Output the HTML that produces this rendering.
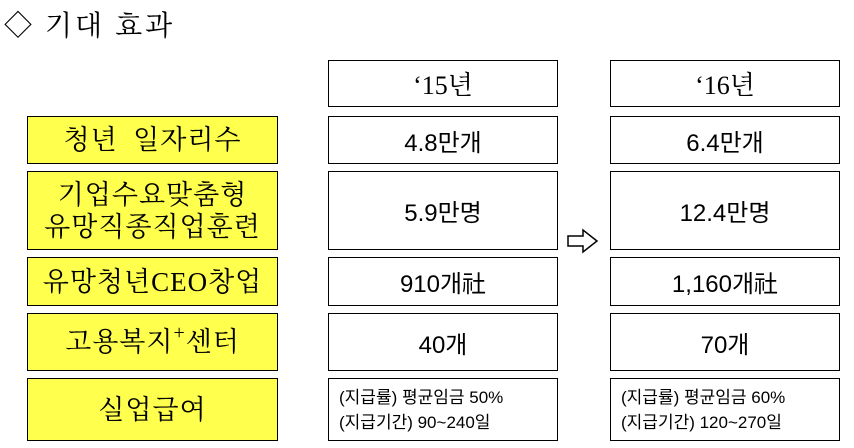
<!DOCTYPE html>
<html><head><meta charset="utf-8"><style>
body{margin:0;width:854px;height:448px;background:#fff;position:relative;overflow:hidden;font-family:"Liberation Sans","Noto Sans CJK KR",sans-serif}
.b{position:absolute;border:1.5px solid #000;box-sizing:border-box;display:flex;align-items:center;justify-content:center;text-align:center;color:#000}
.y{background:#ffff4d;font-family:"Liberation Serif","Noto Serif CJK SC",serif;font-size:27px;line-height:32px;left:27px;width:251px;letter-spacing:1px}
.d{font-size:24px;background:#fff}
.c1{left:328px;width:230px}.c2{left:610px;width:230px}
.s{font-size:17px;line-height:25px;justify-content:flex-start;text-align:left;padding-left:10px}
</style></head><body>
<div style="position:absolute;left:4px;top:4px;font-family:'Liberation Serif','Noto Serif CJK SC',serif;font-size:28px;letter-spacing:3px">◇ 기대 효과</div>
<div class="b d c1" style="top:60px;height:47px;font-family:'Liberation Serif','Noto Serif CJK SC',serif;font-size:26px">‘15년</div>
<div class="b d c2" style="top:60px;height:47px;font-family:'Liberation Serif','Noto Serif CJK SC',serif;font-size:26px">‘16년</div>

<div class="b y" style="top:116px;height:48px">청년&nbsp; 일자리수</div>
<div class="b d c1" style="top:116px;height:48px">4.8만개</div>
<div class="b d c2" style="top:116px;height:48px">6.4만개</div>

<div class="b y" style="top:171px;height:79px">기업수요맞춤형<br>유망직종직업훈련</div>
<div class="b d c1" style="top:171px;height:79px">5.9만명</div>
<div class="b d c2" style="top:171px;height:79px">12.4만명</div>

<div class="b y" style="top:257px;height:49px">유망청년CEO창업</div>
<div class="b d c1" style="top:257px;height:49px">910개社</div>
<div class="b d c2" style="top:257px;height:49px">1,160개社</div>

<div class="b y" style="top:313px;height:58px">고용복지<span style="font-size:20px;position:relative;top:-9px">+</span>센터</div>
<div class="b d c1" style="top:313px;height:58px">40개</div>
<div class="b d c2" style="top:313px;height:58px">70개</div>

<div class="b y" style="top:378px;height:63px">실업급여</div>
<div class="b d c1 s" style="top:378px;height:63px">(지급률) 평균임금 50%<br>(지급기간) 90~240일</div>
<div class="b d c2 s" style="top:378px;height:63px">(지급률) 평균임금 60%<br>(지급기간) 120~270일</div>

<svg style="position:absolute;left:566px;top:228px" width="34" height="26"><polygon points="2,8 17,8 17,2 31,13 17,24 17,18 2,18" fill="#fff" stroke="#000" stroke-width="1.5"/></svg>
</body></html>
